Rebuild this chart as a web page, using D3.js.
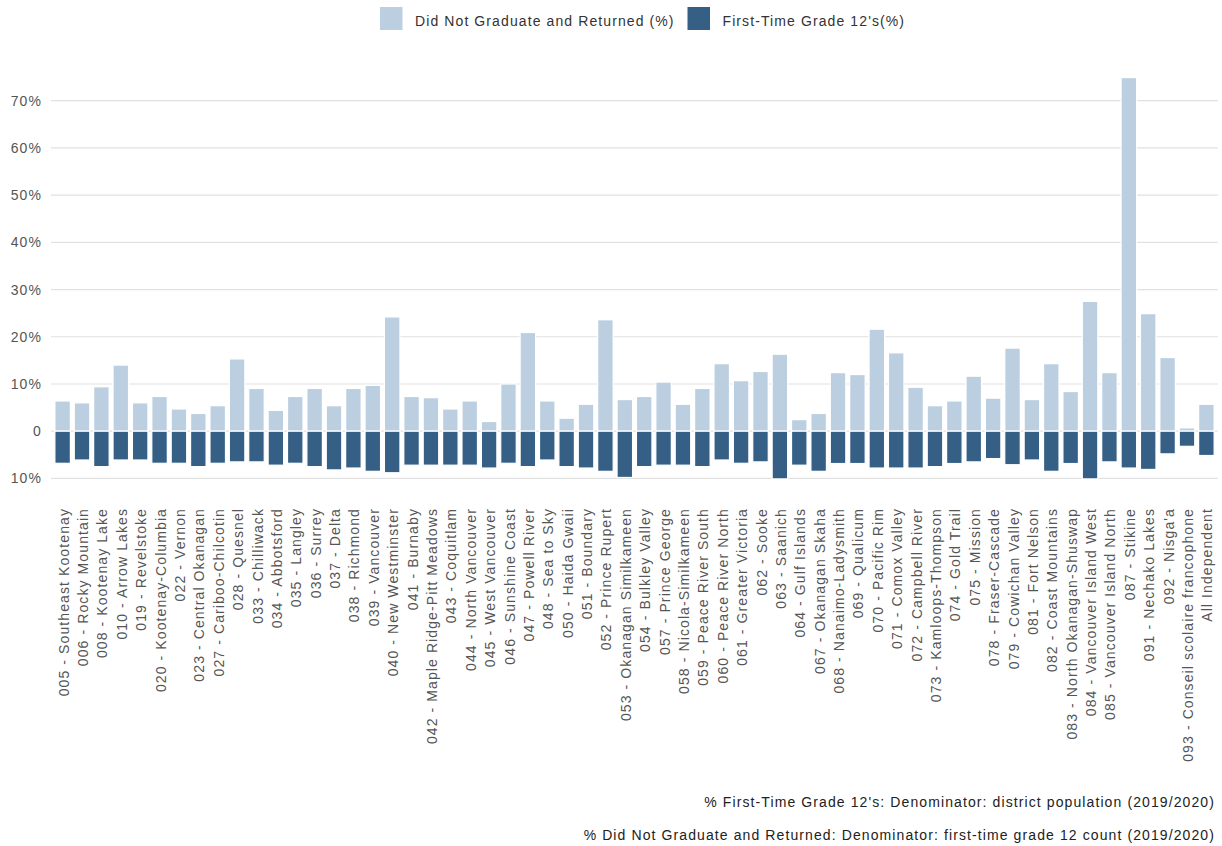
<!DOCTYPE html>
<html>
<head>
<meta charset="utf-8">
<script src="https://cdn.jsdelivr.net/npm/d3@7"></script>
<style>
  html, body { margin: 0; padding: 0; background: #fff; }
  svg { display: block; font-family: "Liberation Sans", Arial, sans-serif; }
</style>
</head>
<body>
<svg id="chart" width="1222" height="846"></svg>
<script>
const categories = [
  "005 - Southeast Kootenay","006 - Rocky Mountain","008 - Kootenay Lake","010 - Arrow Lakes",
  "019 - Revelstoke","020 - Kootenay-Columbia","022 - Vernon","023 - Central Okanagan",
  "027 - Cariboo-Chilcotin","028 - Quesnel","033 - Chilliwack","034 - Abbotsford",
  "035 - Langley","036 - Surrey","037 - Delta","038 - Richmond","039 - Vancouver",
  "040 - New Westminster","041 - Burnaby","042 - Maple Ridge-Pitt Meadows","043 - Coquitlam",
  "044 - North Vancouver","045 - West Vancouver","046 - Sunshine Coast","047 - Powell River",
  "048 - Sea to Sky","050 - Haida Gwaii","051 - Boundary","052 - Prince Rupert",
  "053 - Okanagan Similkameen","054 - Bulkley Valley","057 - Prince George",
  "058 - Nicola-Similkameen","059 - Peace River South","060 - Peace River North",
  "061 - Greater Victoria","062 - Sooke","063 - Saanich","064 - Gulf Islands",
  "067 - Okanagan Skaha","068 - Nanaimo-Ladysmith","069 - Qualicum","070 - Pacific Rim",
  "071 - Comox Valley","072 - Campbell River","073 - Kamloops-Thompson","074 - Gold Trail",
  "075 - Mission","078 - Fraser-Cascade","079 - Cowichan Valley","081 - Fort Nelson",
  "082 - Coast Mountains","083 - North Okanagan-Shuswap","084 - Vancouver Island West",
  "085 - Vancouver Island North","087 - Stikine","091 - Nechako Lakes","092 - Nisga'a",
  "093 - Conseil scolaire francophone","All Independent"
];

// Did Not Graduate and Returned (%) — drawn above zero
const returnedPct = [
  6.4, 6.0, 9.4, 14.0, 6.0, 7.35, 4.7, 3.75, 5.4, 15.3,
  9.05, 4.4, 7.35, 9.05, 5.4, 9.05, 9.7, 24.2, 7.35, 7.1,
  4.7, 6.4, 2.05, 10.0, 20.9, 6.4, 2.75, 5.7, 23.6, 6.7,
  7.35, 10.4, 5.7, 9.05, 14.3, 10.7, 12.65, 16.3, 2.45, 3.75,
  12.4, 12.0, 21.6, 16.6, 9.3, 5.4, 6.4, 11.65, 7.0, 17.6,
  6.7, 14.3, 8.4, 27.5, 12.4, 74.9, 24.9, 15.6, 0.7, 5.7
];

// First-Time Grade 12's (%) — drawn below zero
const firstTimePct = [
  6.8, 6.1, 7.5, 6.1, 6.1, 6.8, 6.8, 7.5, 6.8, 6.5,
  6.5, 7.2, 6.8, 7.5, 8.2, 7.8, 8.5, 8.8, 7.2, 7.2,
  7.2, 7.2, 7.8, 6.8, 7.5, 6.1, 7.5, 7.8, 8.5, 9.8,
  7.5, 7.2, 7.2, 7.5, 6.1, 6.8, 6.5, 10.1, 7.2, 8.5,
  6.85, 6.85, 7.8, 7.8, 7.8, 7.5, 6.85, 6.5, 5.8, 7.1,
  6.1, 8.5, 6.85, 10.1, 6.5, 7.8, 8.1, 4.8, 3.2, 5.15
];

const yTicks = [-10, 0, 10, 20, 30, 40, 50, 60, 70];
const seriesNames = ["Did Not Graduate and Returned (%)", "First-Time Grade 12's(%)"];
const seriesColors = ["#bccfe1", "#355f84"];
const footnotes = [
  "% First-Time Grade 12's: Denominator: district population (2019/2020)",
  "% Did Not Graduate and Returned: Denominator: first-time grade 12 count (2019/2020)"
];

const svg = d3.select("#chart");
const LS = "1.1px";

const x = d3.scaleBand().domain(categories).range([51, 1218]).paddingInner(0.2).paddingOuter(0.2);
const y = d3.scaleLinear().domain([-10, 70]).range([478.4, 100.7]);

// gridlines
svg.append("g").selectAll("line").data(yTicks).join("line")
  .attr("x1", 51).attr("x2", 1218)
  .attr("y1", d => y(d)).attr("y2", d => y(d))
  .attr("stroke", "#e1e1e1").attr("stroke-width", 1.2);

// y labels
svg.append("g").selectAll("text").data(yTicks).join("text")
  .attr("x", 42).attr("y", d => y(d)).attr("dy", "0.36em")
  .attr("text-anchor", "end")
  .attr("font-size", 14).attr("fill", "#555").style("letter-spacing", LS)
  .text(d => d === 0 ? "0" : Math.abs(d) + "%");

// bars
const data = categories.map((c, i) => ({ c, r: returnedPct[i], f: firstTimePct[i] }));
svg.append("g").selectAll("rect").data(data).join("rect")
  .attr("x", d => x(d.c)).attr("width", x.bandwidth())
  .attr("y", d => y(d.r)).attr("height", d => y(0) - y(d.r))
  .attr("fill", seriesColors[0]).attr("stroke", "#fff").attr("stroke-width", 1.2);
svg.append("g").selectAll("rect").data(data).join("rect")
  .attr("x", d => x(d.c)).attr("width", x.bandwidth())
  .attr("y", y(0)).attr("height", d => y(-d.f) - y(0))
  .attr("fill", seriesColors[1]).attr("stroke", "#fff").attr("stroke-width", 1.2);

// x labels
svg.append("g").selectAll("text").data(categories).join("text")
  .attr("transform", d => `translate(${x(d) + x.bandwidth() / 2 + 1},508) rotate(-90)`)
  .attr("dy", "0.36em")
  .attr("text-anchor", "end")
  .attr("font-size", 14).attr("fill", "#555").style("letter-spacing", LS)
  .text(d => d);

// legend
const legendX = [380, 687.5];
const lg = svg.append("g");
seriesNames.forEach((n, i) => {
  lg.append("rect").attr("x", legendX[i]).attr("y", 7).attr("width", 22.5).attr("height", 23)
    .attr("fill", seriesColors[i]);
  lg.append("text").attr("x", legendX[i] + 35).attr("y", 26)
    .attr("font-size", 14).attr("fill", "#333").style("letter-spacing", LS).text(n);
});

// footnotes
svg.append("g").selectAll("text").data(footnotes).join("text")
  .attr("x", 1215).attr("y", (d, i) => 807 + i * 33)
  .attr("text-anchor", "end")
  .attr("font-size", 14).attr("fill", "#222").style("letter-spacing", LS)
  .text(d => d);
</script>
</body>
</html>
